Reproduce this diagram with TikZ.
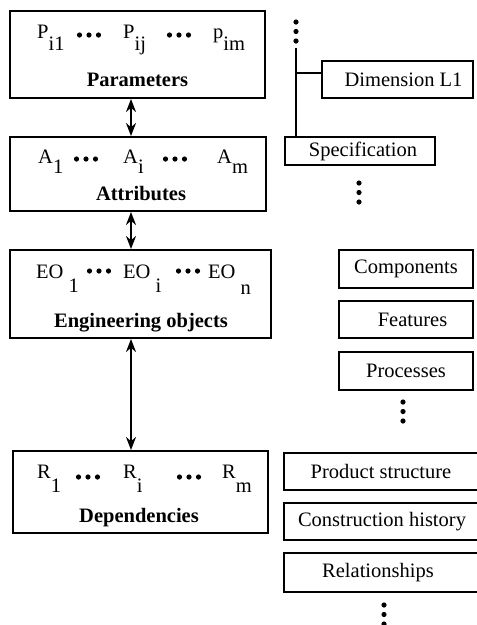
\documentclass[tikz,border=0pt]{standalone}
\usepackage{fontspec}
\setmainfont{Liberation Serif}
\usetikzlibrary{arrows.meta}
\begin{document}
\begin{tikzpicture}[x=1pt,y=-1pt,
  box/.style={draw, line width=2pt, inner sep=0pt},
  sidebox/.style={draw, line width=1.8pt, inner sep=0pt, font=\fontsize{20.5}{24}\selectfont},
  sym/.style={font=\fontsize{20.5}{24}\selectfont, inner sep=0pt, anchor=base west},
  head/.style={font=\fontsize{20.5}{24}\selectfont\bfseries, inner sep=0pt, anchor=base},
  link/.style={line width=2pt, {Stealth[length=13pt,width=10pt]}-{Stealth[length=13pt,width=10pt]}},
  tree/.style={line width=1.8pt},
  hdots/.pic={\foreach \k in {0,1,2} \fill (\k*9.5,0) circle (2.6);},
  vdots/.pic={\foreach \k in {0,1,2} \fill (0,\k*9.5) circle (2.6);}
]
\useasboundingbox (0,0) rectangle (477,625);

% left column: the four levels
\node[box, minimum width=255, minimum height=87] (par) at (137.5,54.5) {};
\node[box, minimum width=256, minimum height=74] (att) at (138,174) {};
\node[box, minimum width=261, minimum height=88] (eo)  at (140.5,294) {};
\node[box, minimum width=255, minimum height=82] (dep) at (140.5,492) {};

% Parameters
\node[sym] (p1) at (37,38)  {P\raisebox{-12pt}{i1}};
\node[sym] (p2) at (123,38) {P\raisebox{-12pt}{ij}};
\node[sym] (p3) at (213,38) {p\raisebox{-12pt}{im}};
\pic at (79.5,35) {hdots};
\pic at (169.5,35) {hdots};
\node[head] (parT) at (137.5,86) {Parameters};

% Attributes
\node[sym] (a1) at (38,163)  {A\raisebox{-10pt}{1}};
\node[sym] (a2) at (123,163) {A\raisebox{-10pt}{i}};
\node[sym] (a3) at (217,163) {A\raisebox{-10pt}{m}};
\pic at (76.5,159) {hdots};
\pic at (165.5,159) {hdots};
\node[head] (attT) at (141,200) {Attributes};

% Engineering objects
\node[sym] (e1) at (36,278)  {EO \raisebox{-14pt}{1}};
\node[sym] (e2) at (123,278) {EO \raisebox{-14pt}{i}};
\node[sym] (e3) at (208,278) {EO \raisebox{-16pt}{n}};
\pic at (89.5,271) {hdots};
\pic at (178.5,271) {hdots};
\node[head] (eoT) at (141,327) {Engineering objects};

% Dependencies
\node[sym] (r1) at (37,478)  {R\raisebox{-14pt}{1}};
\node[sym] (r2) at (123,478) {R\raisebox{-14pt}{i}};
\node[sym] (r3) at (222,478) {R\raisebox{-14pt}{m}};
\pic at (78.5,477) {hdots};
\pic at (179.5,477) {hdots};
\node[head] (depT) at (139,522) {Dependencies};

% links between levels
\coordinate (ax) at (131,0);
\draw[link] (par.south -| ax) -- (att.north -| ax);
\draw[link] (att.south -| ax) -- (eo.north -| ax);
\draw[link] (eo.south -| ax) -- (dep.north -| ax);

% right column: parameter tree
\node[sidebox, minimum width=151, minimum height=37] (dim) at (397.5,79.5) {\hspace*{12pt}Dimension L1};
\node[sidebox, minimum width=150, minimum height=28] (spec) at (360,151) {\hspace*{6pt}Specification};
\pic at (296,22) {vdots};
\coordinate (trunk) at (296,48);
\coordinate (branch) at (296,73);
\draw[tree] (trunk) -- (trunk |- spec.north);
\draw[tree] (branch) -- (branch -| dim.west);
\pic at (359,183) {vdots};

% right column: engineering objects
\node[sidebox, minimum width=134, minimum height=38] (comp) at (406,269) {Components};
\node[sidebox, minimum width=134, minimum height=37] (feat) at (406,319.5) {\hspace*{13pt}Features};
\node[sidebox, minimum width=134, minimum height=38] (proc) at (406,371) {Processes};
\pic at (403,402) {vdots};

% right column: dependencies
\node[sidebox, minimum width=196, minimum height=37] (prod) at (382,471.5) {\hspace*{-2pt}Product structure};
\node[sidebox, minimum width=196, minimum height=37] (cons) at (382,521.5) {Construction history};
\node[sidebox, minimum width=196, minimum height=39] (rel)  at (382,572.5) {\hspace*{-8pt}Relationships};
\pic at (384,605) {vdots};
\end{tikzpicture}
\end{document}
